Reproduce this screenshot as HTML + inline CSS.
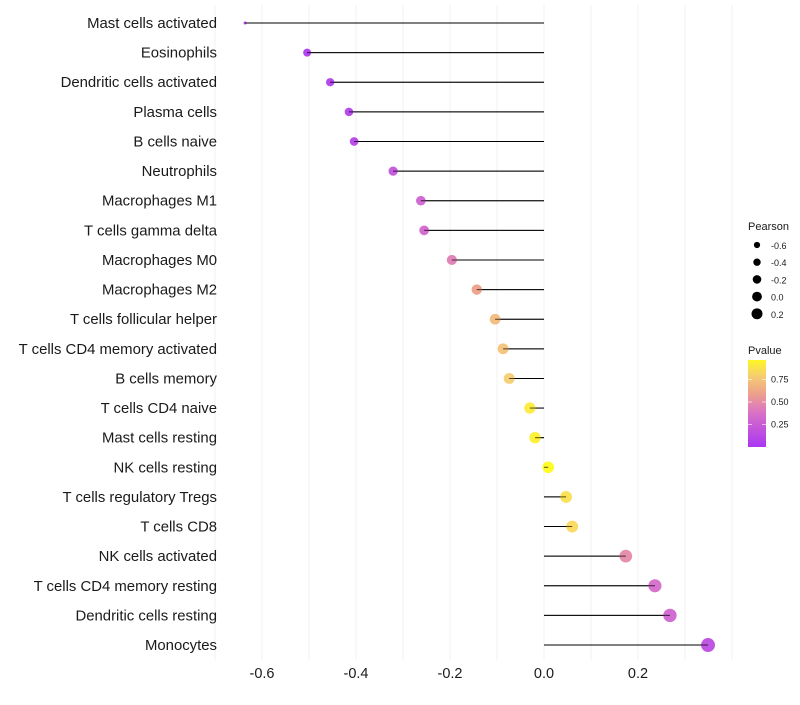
<!DOCTYPE html>
<html><head><meta charset="utf-8"><style>
body{margin:0;background:#fff;font-family:"Liberation Sans",sans-serif}
</style></head><body>
<svg id="c" width="800" height="700" xmlns="http://www.w3.org/2000/svg"></svg>
<script>
const categories=["Mast cells activated","Eosinophils","Dendritic cells activated","Plasma cells","B cells naive","Neutrophils","Macrophages M1","T cells gamma delta","Macrophages M0","Macrophages M2","T cells follicular helper","T cells CD4 memory activated","B cells memory","T cells CD4 naive","Mast cells resting","NK cells resting","T cells regulatory  Tregs ","T cells CD8","NK cells activated","T cells CD4 memory resting","Dendritic cells resting","Monocytes"];
const pearson=[-0.636,-0.504,-0.455,-0.415,-0.404,-0.321,-0.262,-0.255,-0.196,-0.143,-0.104,-0.087,-0.074,-0.030,-0.019,0.009,0.047,0.060,0.174,0.236,0.268,0.349];
const pvalue=[0.02,0.03,0.05,0.08,0.1,0.2,0.3,0.32,0.45,0.6,0.72,0.75,0.8,0.93,0.95,1.0,0.88,0.85,0.5,0.35,0.3,0.15];
const xTicks=[-0.6,-0.4,-0.2,0.0,0.2];
const xTickLabels=["-0.6","-0.4","-0.2","0.0","0.2"];
const sizeBreaks=[-0.6,-0.4,-0.2,0.0,0.2];
const colorBreaks=[0.25,0.5,0.75];
const NS="http://www.w3.org/2000/svg",svg=document.getElementById('c');
const x=v=>544+v*470, y=i=>23+i*29.62, r=v=>v<-0.6?1.5:5.75+3.5*v;
const stops=[[0,[160,32,240]],[0.4,[215,100,190]],[0.6,[235,150,125]],[0.8,[245,200,100]],[1,[255,250,0]]];
function col(p){let a=stops[0],b=stops[1];for(let k=1;k<stops.length;k++){if(p<=stops[k][0]){a=stops[k-1];b=stops[k];break;}}
 const t=Math.min(1,Math.max(0,(p-a[0])/(b[0]-a[0])));
 return 'rgb('+a[1].map((c,k)=>Math.round(c+(b[1][k]-c)*t)).join(',')+')';}
function el(t,at,txt){const e=document.createElementNS(NS,t);for(const k in at)e.setAttribute(k,at[k]);if(txt!=null)e.textContent=txt;svg.appendChild(e);return e;}
for(let v=-0.7;v<=0.4;v+=0.1){const g=el('line',{x1:x(v),x2:x(v),y1:5,y2:660,stroke:'#f2f2f2','stroke-width':1});
}
categories.forEach((c,i)=>{
 const t=el('text',{x:217,y:y(i)+5,'text-anchor':'end','font-size':14.9,fill:'#1a1a1a'},c);
 
 const l=el('line',{x1:x(0),x2:x(pearson[i]),y1:y(i),y2:y(i),stroke:'#000','stroke-width':1});
 
 const d=el('circle',{cx:x(pearson[i]),cy:y(i),r:r(pearson[i]),fill:col(pvalue[i]),'fill-opacity':0.85});
 
 el('line',{x1:x(0),x2:x(pearson[i]),y1:y(i),y2:y(i),stroke:'#000','stroke-width':1,'stroke-opacity':0.6});
});
xTicks.forEach((v,i)=>{const t=el('text',{x:x(v),y:678,'text-anchor':'middle','font-size':14.5,fill:'#1a1a1a'},xTickLabels[i]);
});
let t=el('text',{x:748,y:230,'font-size':11,fill:'#1a1a1a'},'Pearson');
sizeBreaks.forEach((v,i)=>{const c=el('circle',{cx:757,cy:245+i*17.2,r:Math.max(2.5,5.75+3.5*v)*0.85,fill:'#000'});
const l=el('text',{x:771,y:249+i*17.2,'font-size':9,fill:'#1a1a1a'},v.toFixed(1));});
t=el('text',{x:748,y:354,'font-size':11,fill:'#1a1a1a'},'Pvalue');
const defs=el('defs',{});const lg=document.createElementNS(NS,'linearGradient');lg.setAttribute('id','g');lg.setAttribute('x1',0);lg.setAttribute('y1',1);lg.setAttribute('x2',0);lg.setAttribute('y2',0);defs.appendChild(lg);
for(let k=0;k<=10;k++){const s=document.createElementNS(NS,'stop');s.setAttribute('offset',k/10);s.setAttribute('stop-color',col(k/10*0.98));s.setAttribute('stop-opacity',0.9);lg.appendChild(s);}
const bar=el('rect',{x:748,y:360,width:18,height:87,fill:'url(#g)'});
colorBreaks.forEach(p=>{const yy=447-p*90;el('line',{x1:748,x2:752,y1:yy,y2:yy,stroke:'#fff','stroke-opacity':0.6});el('line',{x1:762,x2:766,y1:yy,y2:yy,stroke:'#fff','stroke-opacity':0.6});
const l=el('text',{x:771,y:yy+3,'font-size':9,fill:'#1a1a1a'},p.toFixed(2));});
</script>
</body></html>
